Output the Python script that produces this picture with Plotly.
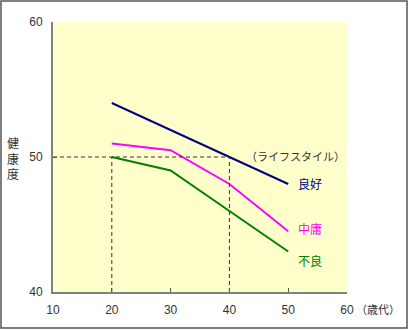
import plotly.graph_objects as go

# Age groups (decades) and health scores by lifestyle
ages = [20, 30, 40, 50]
good = [54, 52, 50, 48]          # 良好
average = [51, 50.5, 48, 44.5]   # 中庸
poor = [50, 49, 46, 43]          # 不良

series_names = ["良好", "中庸", "不良"]
series_colors = ["#000080", "#FF00FF", "#008000"]

x_ticks = [10, 20, 30, 40, 50, 60]
y_ticks = [40, 50, 60]

# Reference guide: score 50 reached at ages 20 and 40
ref_level = 50
ref_ages = [20, 40]

W, H = 411, 330
ML, MR, MT, MB = 53, 64, 22, 38
PW, PH = W - ML - MR, H - MT - MB

JP = "Noto Sans CJK JP"
NUM = "Liberation Sans"

fig = go.Figure()

for name, vals, col in zip(series_names, [good, average, poor], series_colors):
    fig.add_trace(go.Scatter(x=ages, y=vals, mode="lines", name=name,
                             line=dict(color=col, width=2), hoverinfo="skip"))

# dashed guide lines
fig.add_trace(go.Scatter(x=[10, ref_ages[1]], y=[ref_level, ref_level], mode="lines",
                         line=dict(color="#333333", width=1, dash="4px,3px"), hoverinfo="skip"))
for a in ref_ages:
    fig.add_trace(go.Scatter(x=[a, a], y=[40, ref_level], mode="lines",
                             line=dict(color="#333333", width=1, dash="4px,3px"), hoverinfo="skip"))

# line end labels
label_y = [48.07, 44.67, 42.37]
for name, col, ly in zip(series_names, series_colors, label_y):
    fig.add_annotation(x=51.3, y=ly, text=name, showarrow=False, xanchor="left",
                       font=dict(family=JP, size=12, color=col))

fig.add_annotation(x=60, y=50.1, text="（ライフスタイル）", showarrow=False, xanchor="right",
                   font=dict(family=JP, size=11, color="#333333"))

# y-axis title, stacked vertically
fig.add_annotation(x=-40 / PW, y=(292 - 158) / PH, xref="paper", yref="paper",
                   text="健<br>康<br>度", showarrow=False, xanchor="center", yanchor="middle",
                   font=dict(family=JP, size=12, color="#333333"))

# x-axis unit
fig.add_annotation(x=(354 - ML) / PW, y=-(309 - 292) / PH, xref="paper", yref="paper",
                   text="（歳代）", showarrow=False, xanchor="left", yanchor="middle",
                   font=dict(family=JP, size=11, color="#333333"))

# outer frame
fig.add_shape(type="rect", xref="paper", yref="paper",
              x0=(1 - ML) / PW, x1=(407 - ML) / PW,
              y0=-(328 - MT - PH) / PH, y1=(PH + MT - 1) / PH,
              line=dict(color="#555555", width=1.5), fillcolor="rgba(0,0,0,0)", layer="below")

fig.update_layout(
    width=W, height=H,
    margin=dict(l=ML, r=MR, t=MT, b=MB),
    paper_bgcolor="white", plot_bgcolor="#FFFFCC",
    showlegend=False,
    font=dict(family=NUM, size=12, color="#333333"),
    xaxis=dict(range=[10, 60], tickvals=x_ticks, showgrid=False, zeroline=False,
               showline=True, linecolor="#808080", linewidth=2,
               ticks="inside", ticklen=4, tickcolor="#555555", tickwidth=1,
               ticklabelstandoff=6, fixedrange=True),
    yaxis=dict(range=[40, 60], tickvals=y_ticks, showgrid=False, zeroline=False,
               showline=True, linecolor="#808080", linewidth=2,
               ticks="inside", ticklen=4, tickcolor="#555555", tickwidth=1,
               ticklabelstandoff=6, fixedrange=True),
)

fig.write_html("out.html")
